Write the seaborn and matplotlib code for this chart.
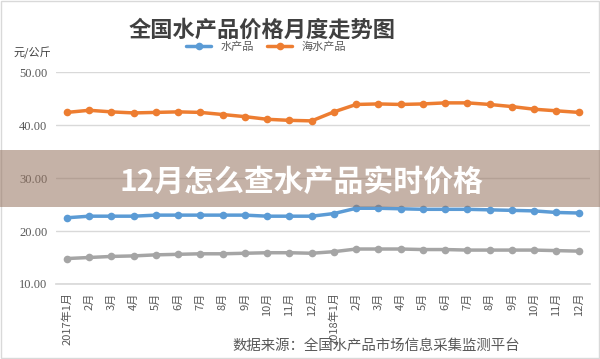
import numpy as np
import pandas as pd
import seaborn as sns
import matplotlib.pyplot as plt
from matplotlib.patches import Rectangle

months = ["2017年1月", "2月", "3月", "4月", "5月", "6月", "7月", "8月", "9月", "10月", "11月", "12月",
          "2018年1月", "2月", "3月", "4月", "5月", "6月", "7月", "8月", "9月", "10月", "11月", "12月"]
aquatic = [22.5, 22.8, 22.8, 22.8, 23.0, 23.0, 23.0, 23.0, 23.0, 22.8, 22.8, 22.8,
           23.3, 24.3, 24.3, 24.2, 24.1, 24.1, 24.1, 24.0, 23.9, 23.8, 23.5, 23.4]
marine = [42.4, 42.8, 42.5, 42.3, 42.4, 42.5, 42.4, 42.0, 41.6, 41.1, 40.9, 40.8,
          42.5, 43.9, 44.0, 43.9, 44.0, 44.2, 44.2, 43.9, 43.5, 43.0, 42.7, 42.4]
freshwater = [14.8, 15.0, 15.2, 15.3, 15.5, 15.6, 15.7, 15.7, 15.8, 15.9, 15.9, 15.8,
              16.1, 16.6, 16.6, 16.6, 16.5, 16.5, 16.4, 16.4, 16.4, 16.4, 16.3, 16.2]
series_names = ["水产品", "海水产品", "淡水产品"]
colors = ["#5b9bd5", "#ed7d31", "#a5a5a5"]

df = pd.DataFrame({"idx": range(len(months)), "水产品": aquatic,
                   "海水产品": marine, "淡水产品": freshwater})
long = df.melt(id_vars="idx", var_name="series", value_name="price")

sns.set_theme(style="white")
plt.rcParams['font.family'] = ['Noto Sans CJK SC', 'DejaVu Sans']

fig = plt.figure(figsize=(6, 3.59), dpi=100)
ax = fig.add_axes([0.093, 0.209, 0.89, 0.59])

sns.lineplot(data=long, x="idx", y="price", hue="series", hue_order=series_names,
             palette=colors, marker="o", markersize=5.5, markeredgewidth=0,
             linewidth=2.5, legend=False, ax=ax)

ax.set_xlim(-0.5, len(months) - 0.5)
ax.set_ylim(10, 50)
ax.set_yticks([10, 20, 30, 40, 50])
ax.set_yticklabels([f"{v:.2f}" for v in [10, 20, 30, 40, 50]],
                   fontsize=9, color="#595959", family=["Liberation Serif"])
ax.set_xticks(range(len(months)))
ax.set_xticklabels(months, rotation=90, fontsize=8, color="#595959")
ax.tick_params(length=0, pad=6)
ax.grid(axis="y", color="#d9d9d9", linewidth=1)
ax.set_xlabel("")
ax.set_ylabel("")
for s in ["top", "right", "left"]:
    ax.spines[s].set_visible(False)
ax.spines["bottom"].set_color("#d9d9d9")

lines = ax.get_lines()
fig.legend(lines[:2], series_names[:2], loc="center", bbox_to_anchor=(0.443, 0.869),
           ncol=2, frameon=False, fontsize=8, handlelength=2.3, columnspacing=1.2,
           labelcolor="#595959")

fig.text(0.437, 0.916, "全国水产品价格月度走势图", ha="center", va="center",
         fontsize=16, fontweight="bold", color="#404040")
fig.text(0.022, 0.853, "元/公斤", ha="left", va="center", fontsize=8, color="#404040")
fig.text(0.387, 0.037, "数据来源：全国水产品市场信息采集监测平台", ha="left", va="center",
         fontsize=10.4, color="#595959")

# overlay banner
fig.add_artist(Rectangle((0, 0.4234), 1, 0.159, transform=fig.transFigure,
                         facecolor=(150/255, 115/255, 95/255), alpha=0.55,
                         edgecolor="none", zorder=5))
fig.text(0.502, 0.493, "12月怎么查水产品实时价格", ha="center", va="center",
         fontsize=21.5, fontweight="bold", color="white", zorder=6)

fig.add_artist(Rectangle((0.002, 0.003), 0.996, 0.994, transform=fig.transFigure,
                         facecolor="none", edgecolor="#d9d9d9", linewidth=1))

fig.savefig("out.png", dpi=100)
